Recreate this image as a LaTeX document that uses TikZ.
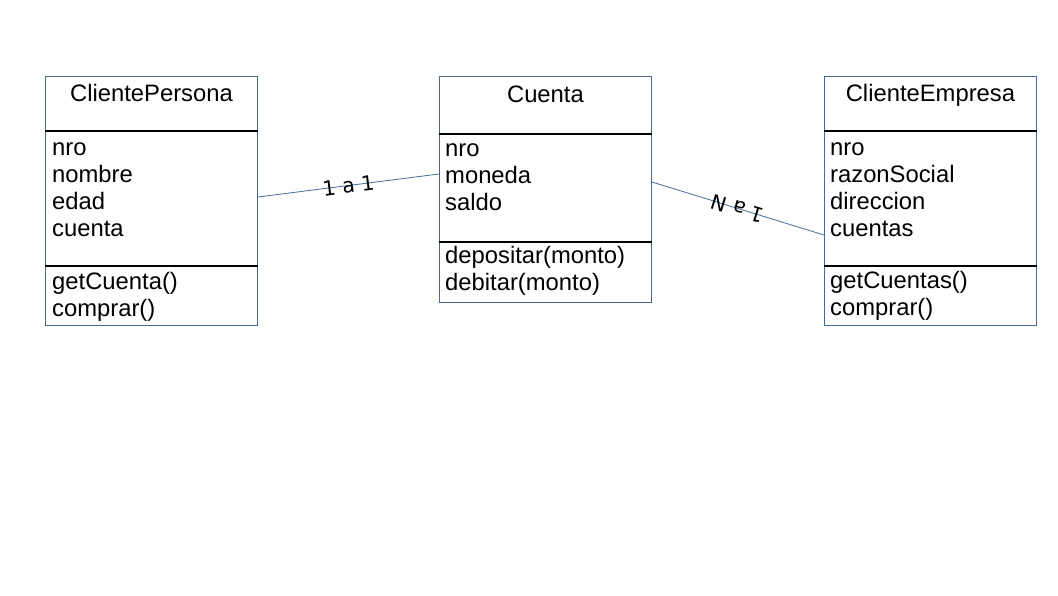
\documentclass[tikz,border=0pt]{standalone}
\usepackage{fontspec}
\setmainfont{Liberation Sans}
\newfontfamily\etiqfont{DejaVu Sans}
\usetikzlibrary{positioning, calc}
\definecolor{bordeazul}{HTML}{4A6A96}

\tikzset{
  clase/.style={draw=bordeazul, line width=0.9pt, minimum width=212pt, inner sep=0pt, anchor=north west},
  titulo/.style={font=\fontsize{23.8}{27}\selectfont, inner sep=0pt, anchor=base},
  lista/.style={font=\fontsize{23.8}{27}\selectfont, inner sep=0pt, anchor=base west, align=left},
  divisor/.style={draw=black, line width=1.1pt},
  enlace/.style={draw=bordeazul, line width=0.8pt},
  etiqueta/.style={font=\etiqfont\fontsize{20.5}{24}\selectfont, inner sep=0pt, midway, sloped}
}

\begin{document}
\begin{tikzpicture}[x=1pt, y=-1pt]

            % Fondo
            \fill[white] (0,0) rectangle (1058,595);
            \useasboundingbox (0,0) rectangle (1058,595);

            % Clase ClientePersona (listas ancladas en la ultima linea)
            \node[clase, minimum height=249pt] (persona) at (45,76) {};
            \node[titulo] (personaT) at ([yshift=-25pt]persona.north) {ClientePersona};
            \draw[divisor] ([yshift=-55pt]persona.north west) -- ([yshift=-55pt]persona.north east);
            \node[lista] (personaA) at ([xshift=7pt, yshift=-160pt]persona.north west) {nro\\nombre\\edad\\cuenta};
            \draw[divisor] ([yshift=-190pt]persona.north west) -- ([yshift=-190pt]persona.north east);
            \node[lista] (personaM) at ([xshift=7pt, yshift=-240pt]persona.north west) {getCuenta()\\comprar()};

            % Clase Cuenta
            \node[clase, minimum height=226pt] (cuenta) at (439,76) {};
            \node[titulo] (cuentaT) at ([yshift=-26pt]cuenta.north) {Cuenta};
            \draw[divisor] ([yshift=-58pt]cuenta.north west) -- ([yshift=-58pt]cuenta.north east);
            \node[lista] (cuentaA) at ([xshift=6pt, yshift=-134pt]cuenta.north west) {nro\\moneda\\saldo};
            \draw[divisor] ([yshift=-166pt]cuenta.north west) -- ([yshift=-166pt]cuenta.north east);
            \node[lista] (cuentaM) at ([xshift=6pt, yshift=-214pt]cuenta.north west) {depositar(monto)\\debitar(monto)};

            % Clase ClienteEmpresa
            \node[clase, minimum height=249pt] (empresa) at (824,76) {};
            \node[titulo] (empresaT) at ([yshift=-25pt]empresa.north) {ClienteEmpresa};
            \draw[divisor] ([yshift=-55pt]empresa.north west) -- ([yshift=-55pt]empresa.north east);
            \node[lista] (empresaA) at ([xshift=6pt, yshift=-160pt]empresa.north west) {nro\\razonSocial\\direccion\\cuentas};
            \draw[divisor] ([yshift=-190pt]empresa.north west) -- ([yshift=-190pt]empresa.north east);
            \node[lista] (empresaM) at ([xshift=6pt, yshift=-239pt]empresa.north west) {getCuentas()\\comprar()};

            % Puntos de las asociaciones
            \coordinate (p1) at ([yshift=-121pt]persona.north east);
            \coordinate (c1) at ([yshift=-98pt]cuenta.north west);
            \coordinate (c2) at ([yshift=-106pt]cuenta.north east);
            \coordinate (e1) at ([yshift=-159pt]empresa.north west);

            % Asociaciones
            \draw[enlace] (p1) -- (c1) node[etiqueta] (rel1) {1 a 1};
            \draw[enlace] (e1) -- (c2) node[etiqueta, allow upside down] (rel2) {1 a N};

\end{tikzpicture}
\end{document}
